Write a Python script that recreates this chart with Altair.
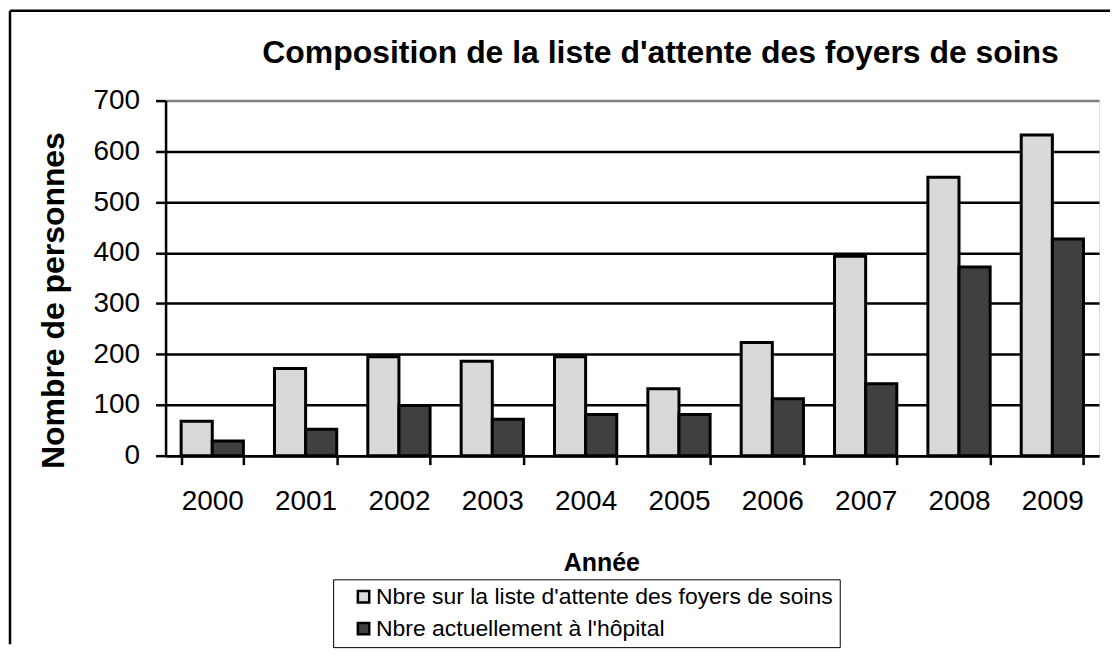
import altair as alt
import pandas as pd

years = ["2000", "2001", "2002", "2003", "2004", "2005", "2006", "2007", "2008", "2009"]
waiting = [68, 172, 195, 186, 195, 132, 223, 393, 549, 632]
hospital = [29, 52, 99, 72, 81, 81, 112, 142, 372, 427]
series_names = ["Nbre sur la liste d'attente des foyers de soins", "Nbre actuellement à l'hôpital"]
colors = ["#D9D9D9", "#404040"]
y_ticks = [0, 100, 200, 300, 400, 500, 600, 700]

rows = []
for i, yr in enumerate(years):
    rows.append({"year": yr, "series": series_names[0], "value": waiting[i]})
    rows.append({"year": yr, "series": series_names[1], "value": hospital[i]})
df = pd.DataFrame(rows)

FONT = "Liberation Sans"

bars = alt.Chart(df).mark_bar(stroke="black", strokeWidth=3).encode(
    x=alt.X(
        "year:N",
        sort=years,
        scale=alt.Scale(paddingInner=0.333, paddingOuter=0.1667),
        axis=alt.Axis(
            title="Année",
            labelAngle=0,
            tickBand="extent",
            tickSize=9,
            tickWidth=2.5,
            tickColor="black",
            domainColor="black",
            domainWidth=2.5,
            labelFontSize=28,
            labelFont=FONT,
            labelColor="black",
            labelPadding=23,
            titleFontSize=25,
            titleFont=FONT,
            titleFontWeight="bold",
            titleColor="black",
            titleX=437,
            titleY=95,
            grid=False,
        ),
    ),
    xOffset=alt.XOffset("series:N", sort=series_names, scale=alt.Scale(paddingInner=0, paddingOuter=0)),
    y=alt.Y(
        "value:Q",
        scale=alt.Scale(domain=[0, 700], nice=False),
        axis=alt.Axis(
            title="Nombre de personnes",
            values=y_ticks,
            tickSize=10,
            tickWidth=2.5,
            tickColor="black",
            domainColor="black",
            domainWidth=2.5,
            grid=True,
            gridWidth=2.5,
            gridColor={"condition": {"test": "datum.value === 700", "value": "#808080"}, "value": "black"},
            labelFontSize=28,
            labelFont=FONT,
            labelColor="black",
            labelPadding=16,
            titleFontSize=32,
            titleFont=FONT,
            titleFontWeight="bold",
            titleColor="black",
            titleX=-95,
            titleY=200,
        ),
    ),
    fill=alt.Fill(
        "series:N",
        sort=series_names,
        title=None,
        scale=alt.Scale(domain=series_names, range=colors),
        legend=alt.Legend(
            orient="none",
            legendX=168,
            legendY=480,
            direction="vertical",
            symbolType="square",
            symbolSize=130,
            symbolStrokeColor="black",
            symbolStrokeWidth=2.5,
            labelFontSize=23,
            labelFont=FONT,
            labelColor="black",
            labelLimit=700,
            padding=6,
            symbolOffset=13,
            labelOffset=1,
            rowPadding=8,
            strokeColor="black",
            fillColor="white",
        ),
    ),
)

frame_data = alt.Data(values=[{"k": 1}])
top_rule = alt.Chart(frame_data).mark_rule(color="black", strokeWidth=2.5).encode(
    x=alt.value(-156), x2=alt.value(947), y=alt.value(-90)
)
left_rule = alt.Chart(frame_data).mark_rule(color="black", strokeWidth=2.5).encode(
    x=alt.value(-156), y=alt.value(-90), y2=alt.value(545)
)

chart = alt.layer(top_rule, left_rule, bars).properties(
    width=936,
    height=356,
    padding=0,
    title=alt.Title(
        "Composition de la liste d'attente des foyers de soins",
        fontSize=32,
        font=FONT,
        fontWeight="bold",
        color="black",
        anchor="start",
        frame="group",
        dx=97,
        dy=86,
        offset=0,
        baseline="alphabetic",
    ),
).configure_view(
    stroke="#808080", strokeWidth=3
).configure_legend(
    strokeWidth=2.5
).configure(font=FONT)

chart.save("out.html", embed_options={"renderer": "svg", "actions": False})
